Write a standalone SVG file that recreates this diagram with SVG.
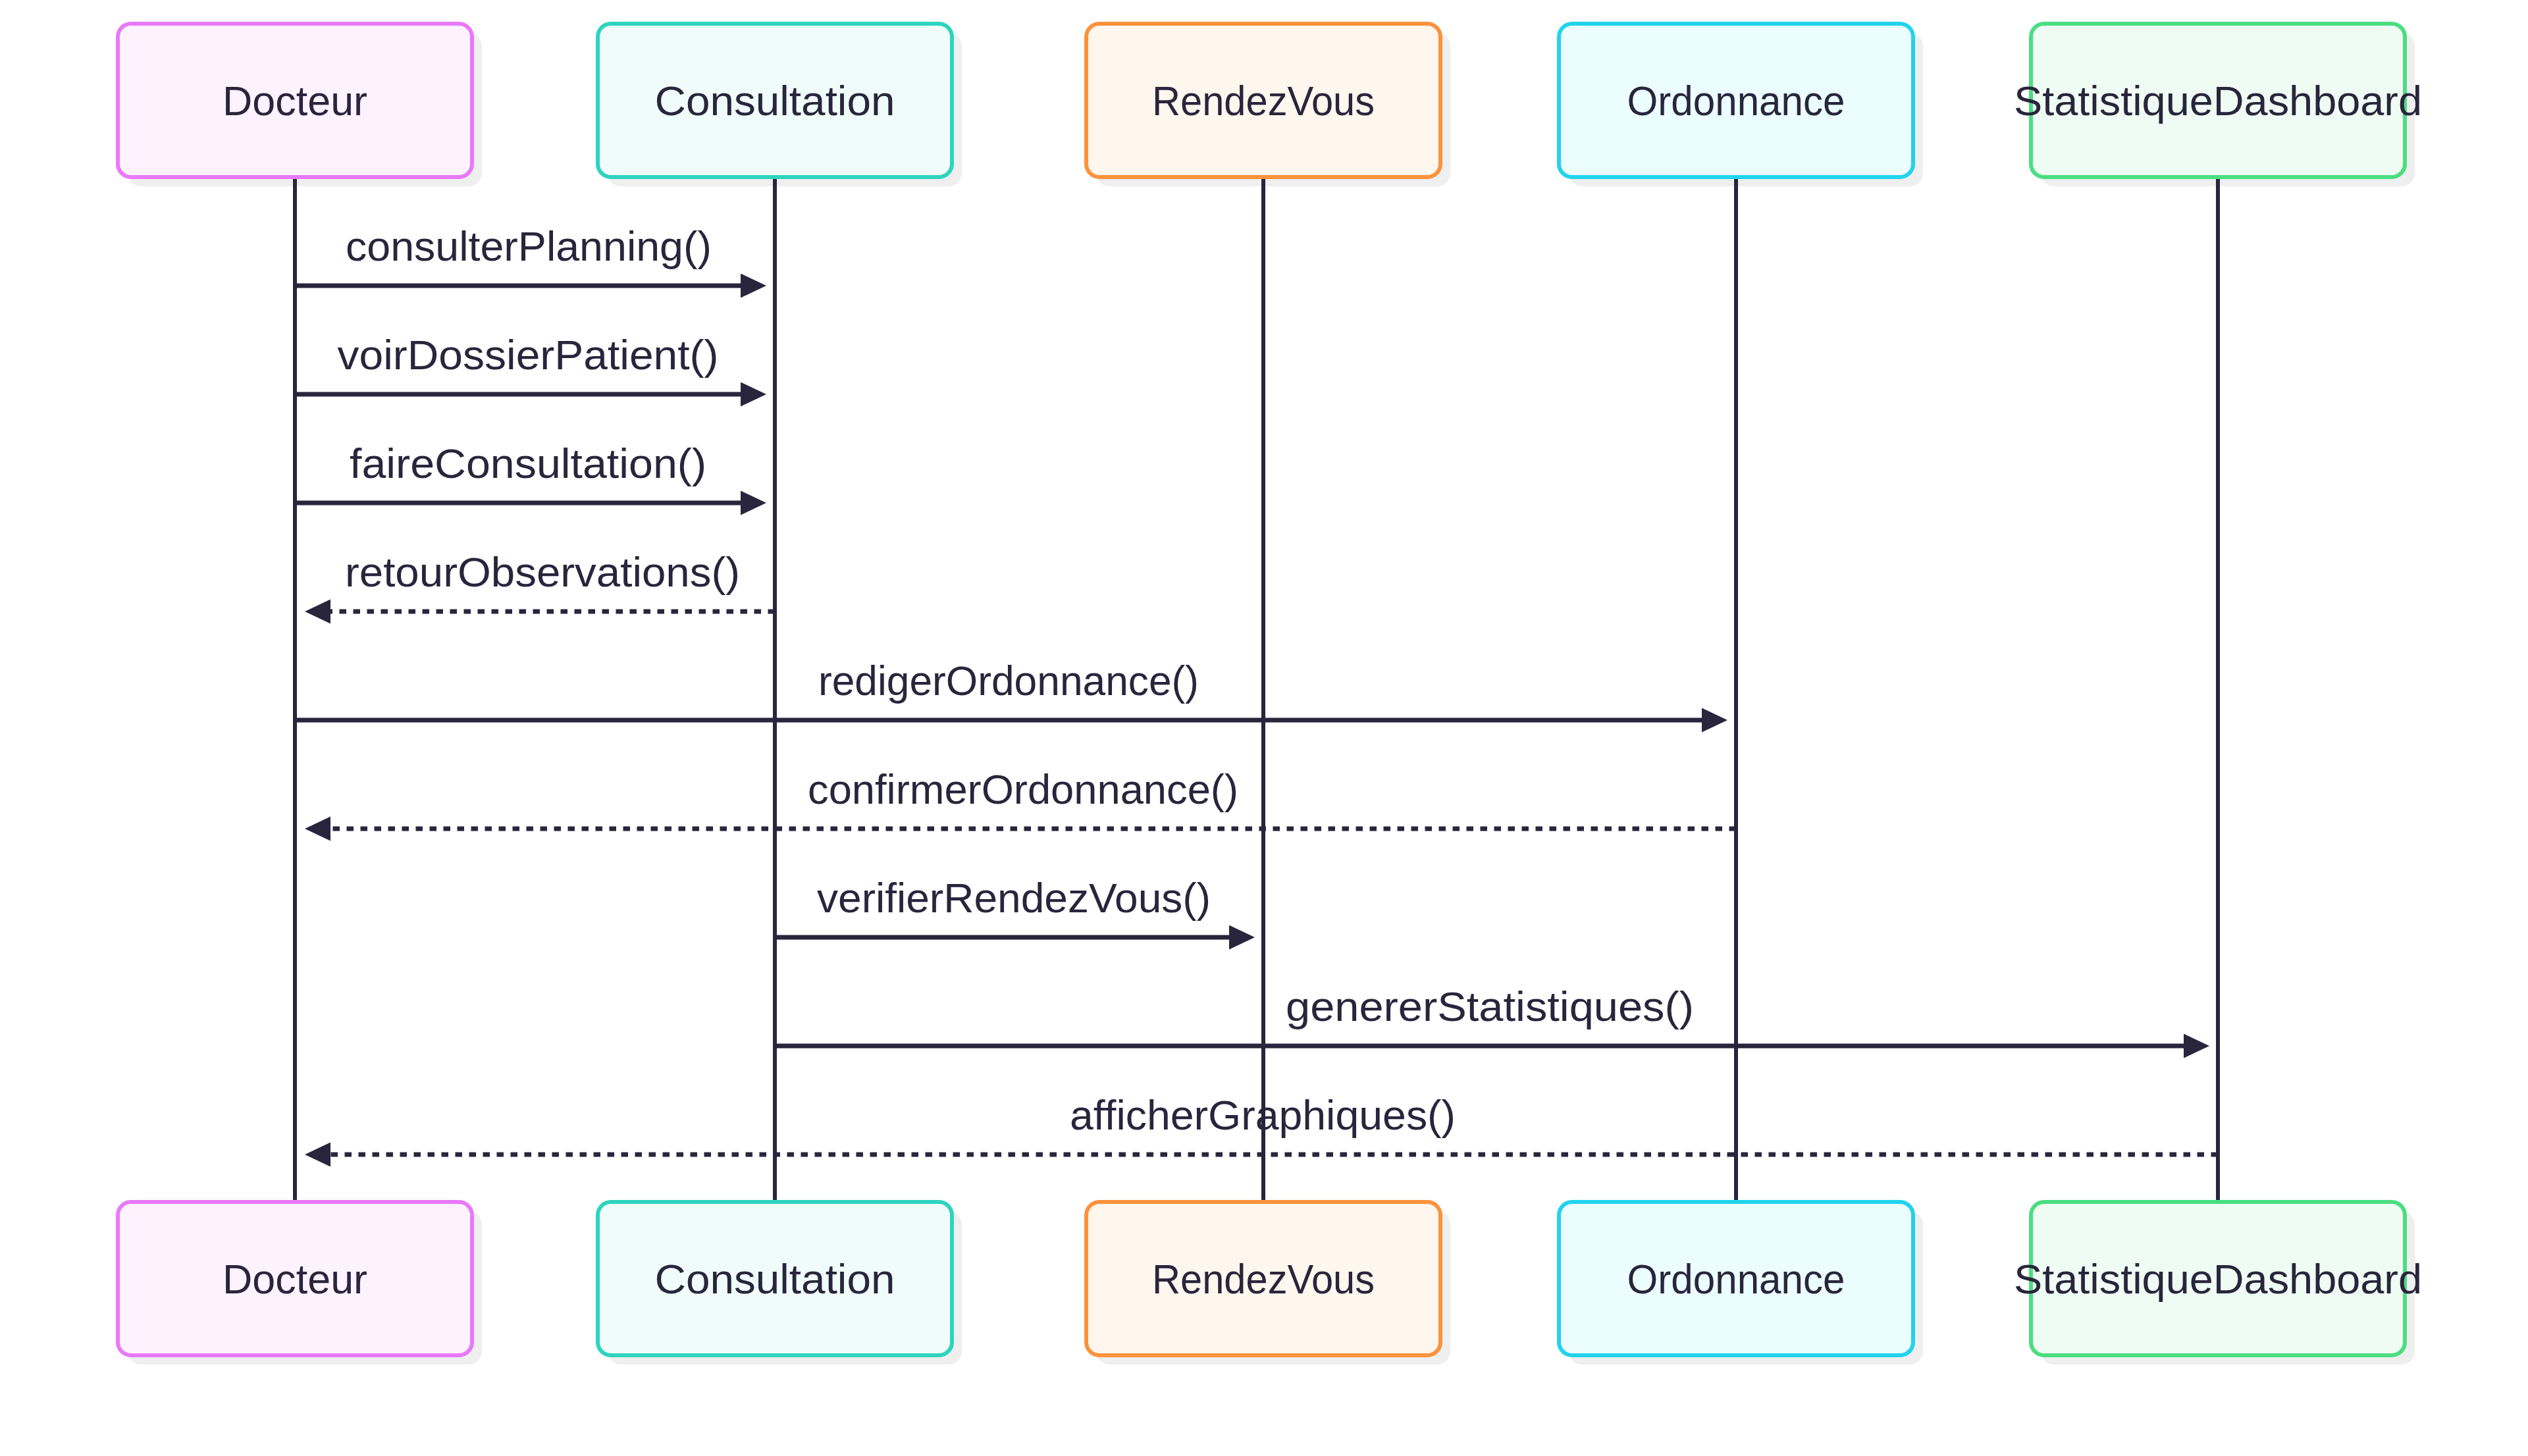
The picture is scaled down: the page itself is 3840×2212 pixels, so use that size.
<svg xmlns="http://www.w3.org/2000/svg" width="3840" height="2212" viewBox="0 0 3840 2212">
  <style>
    .shadow { fill: #efefef; }
    .box { stroke-width: 6; }
    .name, .label { font-family: "Liberation Sans", Arial, sans-serif; font-size: 63px; fill: #29253c; text-anchor: middle; }
    .lifeline { stroke: #29253c; stroke-width: 6; }
    .msg { stroke: #29253c; stroke-width: 7; fill: none; }
    .msg.ret { stroke-dasharray: 10.5 10.5; }
    .docteur .box { fill: #fdf2fe; stroke: #e879f9; }
    .consultation .box { fill: #effcf9; stroke: #2dd4bf; }
    .rendezvous .box { fill: #fff6ed; stroke: #fb923c; }
    .ordonnance .box { fill: #ebfdfe; stroke: #22d3ee; }
    .statistique .box { fill: #effcf3; stroke: #4ade80; }
  </style>
  <defs>
    <marker id="arrowhead" markerUnits="userSpaceOnUse" markerWidth="42" markerHeight="40" refX="0" refY="18.5" orient="auto">
      <path d="M0,0 L39,18.5 L0,37 Z" fill="#29253c"/>
    </marker>
  </defs>

  <rect width="3840" height="2212" fill="#ffffff"/>

  <!-- actors, top row -->
  <g id="actor-docteur-top" class="docteur">
    <rect class="shadow" x="194" y="50" width="538" height="233" rx="20"/>
    <rect class="box" x="179" y="36" width="538" height="233" rx="20"/>
    <text class="name" x="448" y="175" textLength="220" lengthAdjust="spacingAndGlyphs">Docteur</text>
  </g>
  <g id="actor-consultation-top" class="consultation">
    <rect class="shadow" x="923" y="50" width="538" height="233" rx="20"/>
    <rect class="box" x="908" y="36" width="538" height="233" rx="20"/>
    <text class="name" x="1177" y="175" textLength="365" lengthAdjust="spacingAndGlyphs">Consultation</text>
  </g>
  <g id="actor-rendezvous-top" class="rendezvous">
    <rect class="shadow" x="1665" y="50" width="538" height="233" rx="20"/>
    <rect class="box" x="1650" y="36" width="538" height="233" rx="20"/>
    <text class="name" x="1919" y="175" textLength="338" lengthAdjust="spacingAndGlyphs">RendezVous</text>
  </g>
  <g id="actor-ordonnance-top" class="ordonnance">
    <rect class="shadow" x="2383" y="50" width="538" height="233" rx="20"/>
    <rect class="box" x="2368" y="36" width="538" height="233" rx="20"/>
    <text class="name" x="2637" y="175" textLength="331" lengthAdjust="spacingAndGlyphs">Ordonnance</text>
  </g>
  <g id="actor-statistique-top" class="statistique">
    <rect class="shadow" x="3100" y="50" width="568" height="233" rx="20"/>
    <rect class="box" x="3085" y="36" width="568" height="233" rx="20"/>
    <text class="name" x="3369" y="175" textLength="620" lengthAdjust="spacingAndGlyphs">StatistiqueDashboard</text>
  </g>

  <!-- actors, bottom row -->
  <g id="actor-docteur-bottom" class="docteur">
    <rect class="shadow" x="194" y="1840" width="538" height="233" rx="20"/>
    <rect class="box" x="179" y="1826" width="538" height="233" rx="20"/>
    <text class="name" x="448" y="1965" textLength="220" lengthAdjust="spacingAndGlyphs">Docteur</text>
  </g>
  <g id="actor-consultation-bottom" class="consultation">
    <rect class="shadow" x="923" y="1840" width="538" height="233" rx="20"/>
    <rect class="box" x="908" y="1826" width="538" height="233" rx="20"/>
    <text class="name" x="1177" y="1965" textLength="365" lengthAdjust="spacingAndGlyphs">Consultation</text>
  </g>
  <g id="actor-rendezvous-bottom" class="rendezvous">
    <rect class="shadow" x="1665" y="1840" width="538" height="233" rx="20"/>
    <rect class="box" x="1650" y="1826" width="538" height="233" rx="20"/>
    <text class="name" x="1919" y="1965" textLength="338" lengthAdjust="spacingAndGlyphs">RendezVous</text>
  </g>
  <g id="actor-ordonnance-bottom" class="ordonnance">
    <rect class="shadow" x="2383" y="1840" width="538" height="233" rx="20"/>
    <rect class="box" x="2368" y="1826" width="538" height="233" rx="20"/>
    <text class="name" x="2637" y="1965" textLength="331" lengthAdjust="spacingAndGlyphs">Ordonnance</text>
  </g>
  <g id="actor-statistique-bottom" class="statistique">
    <rect class="shadow" x="3100" y="1840" width="568" height="233" rx="20"/>
    <rect class="box" x="3085" y="1826" width="568" height="233" rx="20"/>
    <text class="name" x="3369" y="1965" textLength="620" lengthAdjust="spacingAndGlyphs">StatistiqueDashboard</text>
  </g>

  <!-- lifelines, running from the top boxes to the bottom boxes -->
  <g id="lifelines">
    <line class="lifeline" x1="448" y1="272" x2="448" y2="1823"/>
    <line class="lifeline" x1="1177" y1="272" x2="1177" y2="1823"/>
    <line class="lifeline" x1="1919" y1="272" x2="1919" y2="1823"/>
    <line class="lifeline" x1="2637" y1="272" x2="2637" y2="1823"/>
    <line class="lifeline" x1="3369" y1="272" x2="3369" y2="1823"/>
  </g>

  <!-- messages -->
  <g id="messages">
    <text class="label" x="803" y="396" textLength="556" lengthAdjust="spacingAndGlyphs">consulterPlanning()</text>
    <line class="msg" x1="448" y1="434" x2="1125" y2="434" marker-end="url(#arrowhead)"/>

    <text class="label" x="802" y="561" textLength="579" lengthAdjust="spacingAndGlyphs">voirDossierPatient()</text>
    <line class="msg" x1="448" y1="599" x2="1125" y2="599" marker-end="url(#arrowhead)"/>

    <text class="label" x="802" y="726" textLength="542" lengthAdjust="spacingAndGlyphs">faireConsultation()</text>
    <line class="msg" x1="448" y1="764" x2="1125" y2="764" marker-end="url(#arrowhead)"/>

    <text class="label" x="824" y="891" textLength="600" lengthAdjust="spacingAndGlyphs">retourObservations()</text>
    <line class="msg ret" x1="1177" y1="929" x2="502" y2="929" marker-end="url(#arrowhead)"/>

    <text class="label" x="1532" y="1056" textLength="578" lengthAdjust="spacingAndGlyphs">redigerOrdonnance()</text>
    <line class="msg" x1="448" y1="1094" x2="2585" y2="1094" marker-end="url(#arrowhead)"/>

    <text class="label" x="1554" y="1221" textLength="654" lengthAdjust="spacingAndGlyphs">confirmerOrdonnance()</text>
    <line class="msg ret" x1="2637" y1="1259" x2="502" y2="1259" marker-end="url(#arrowhead)"/>

    <text class="label" x="1540" y="1386" textLength="598" lengthAdjust="spacingAndGlyphs">verifierRendezVous()</text>
    <line class="msg" x1="1177" y1="1424" x2="1867" y2="1424" marker-end="url(#arrowhead)"/>

    <text class="label" x="2263" y="1551" textLength="620" lengthAdjust="spacingAndGlyphs">genererStatistiques()</text>
    <line class="msg" x1="1177" y1="1589" x2="3317" y2="1589" marker-end="url(#arrowhead)"/>

    <text class="label" x="1918" y="1716" textLength="586" lengthAdjust="spacingAndGlyphs">afficherGraphiques()</text>
    <line class="msg ret" x1="3369" y1="1754" x2="502" y2="1754" marker-end="url(#arrowhead)"/>
  </g>
</svg>
